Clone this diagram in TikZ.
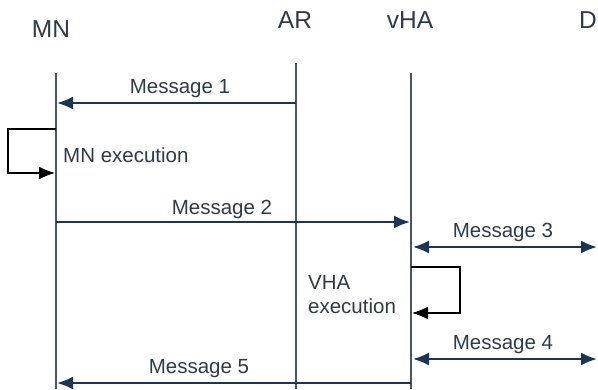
\documentclass[tikz,border=0pt]{standalone}
\usepackage{fontspec}
\setmainfont{Liberation Sans}
\usetikzlibrary{arrows.meta}

\definecolor{navy}{HTML}{1C3556}
\definecolor{lifegray}{HTML}{4A5668}
\definecolor{labelgray}{HTML}{2E3A4A}

\begin{document}
\begin{tikzpicture}[x=1pt,y=-1pt,
  head/.style={inner sep=0pt,anchor=base,labelgray,font=\fontsize{24.5}{28}\selectfont},
  msglabel/.style={inner sep=0pt,anchor=base,labelgray,font=\fontsize{20.5}{24}\selectfont},
  lifeline/.style={lifegray,line width=1.4pt},
  msg/.style={navy,line width=2pt,-{Latex[length=16pt,width=13pt]}},
  msgboth/.style={navy,line width=2pt,{Latex[length=16pt,width=13pt]}-{Latex[length=16pt,width=13pt]}},
  selfloop/.style={black,line width=1.4pt,-{Latex[length=16pt,width=13pt]}}]

  \useasboundingbox (0,0) rectangle (598,389);

  % entities
  \node[head] (MN) at (51,37) {MN};
  \node[head] (AR) at (295,28) {AR};
  \node[head] (vHA) at (410,28) {vHA};
  \node[head] (D) at (588,28) {D};

  % lifelines
  \coordinate (MNtop) at (56,73);   \coordinate (MNbot) at (56,389);
  \coordinate (ARtop) at (296,63);  \coordinate (ARbot) at (296,389);
  \coordinate (vHAtop) at (411,73); \coordinate (vHAbot) at (411,389);
  \draw[lifeline] (MNtop) -- (MNbot);
  \draw[lifeline] (ARtop) -- (ARbot);
  \draw[lifeline] (vHAtop) -- (vHAbot);

  % Message 1
  \coordinate (m1a) at (296,103); \coordinate (m1b) at (57,103);
  \draw[msg] (m1a) -- (m1b);
  \node[msglabel] (m1) at (180,93) {Message 1};

  % MN execution
  \coordinate (mnx1) at (56,129); \coordinate (mnx2) at (55,173);
  \draw[selfloop] (mnx1) -- (8,129) -- (8,173) -- (mnx2);
  \node[msglabel,anchor=base west] (mnexec) at (63,162) {MN execution};

  % Message 2
  \coordinate (m2a) at (56,222); \coordinate (m2b) at (410,222);
  \draw[msg] (m2a) -- (m2b);
  \node[msglabel] (m2) at (222,214) {Message 2};

  % Message 3
  \coordinate (m3a) at (413,247); \coordinate (m3b) at (597,247);
  \draw[msgboth] (m3a) -- (m3b);
  \node[msglabel] (m3) at (503,237) {Message 3};

  % VHA execution
  \coordinate (vhx1) at (411,267); \coordinate (vhx2) at (412,313);
  \draw[selfloop] (vhx1) -- (460,267) -- (460,313) -- (vhx2);
  \node[msglabel,anchor=base west,align=left] (vhexec) at (308,313) {VHA\\execution};

  % Message 4
  \coordinate (m4a) at (413,359); \coordinate (m4b) at (597,359);
  \draw[msgboth] (m4a) -- (m4b);
  \node[msglabel] (m4) at (503,349) {Message 4};

  % Message 5
  \coordinate (m5a) at (411,383); \coordinate (m5b) at (57,383);
  \draw[msg] (m5a) -- (m5b);
  \node[msglabel] (m5) at (199,373) {Message 5};

\end{tikzpicture}
\end{document}
